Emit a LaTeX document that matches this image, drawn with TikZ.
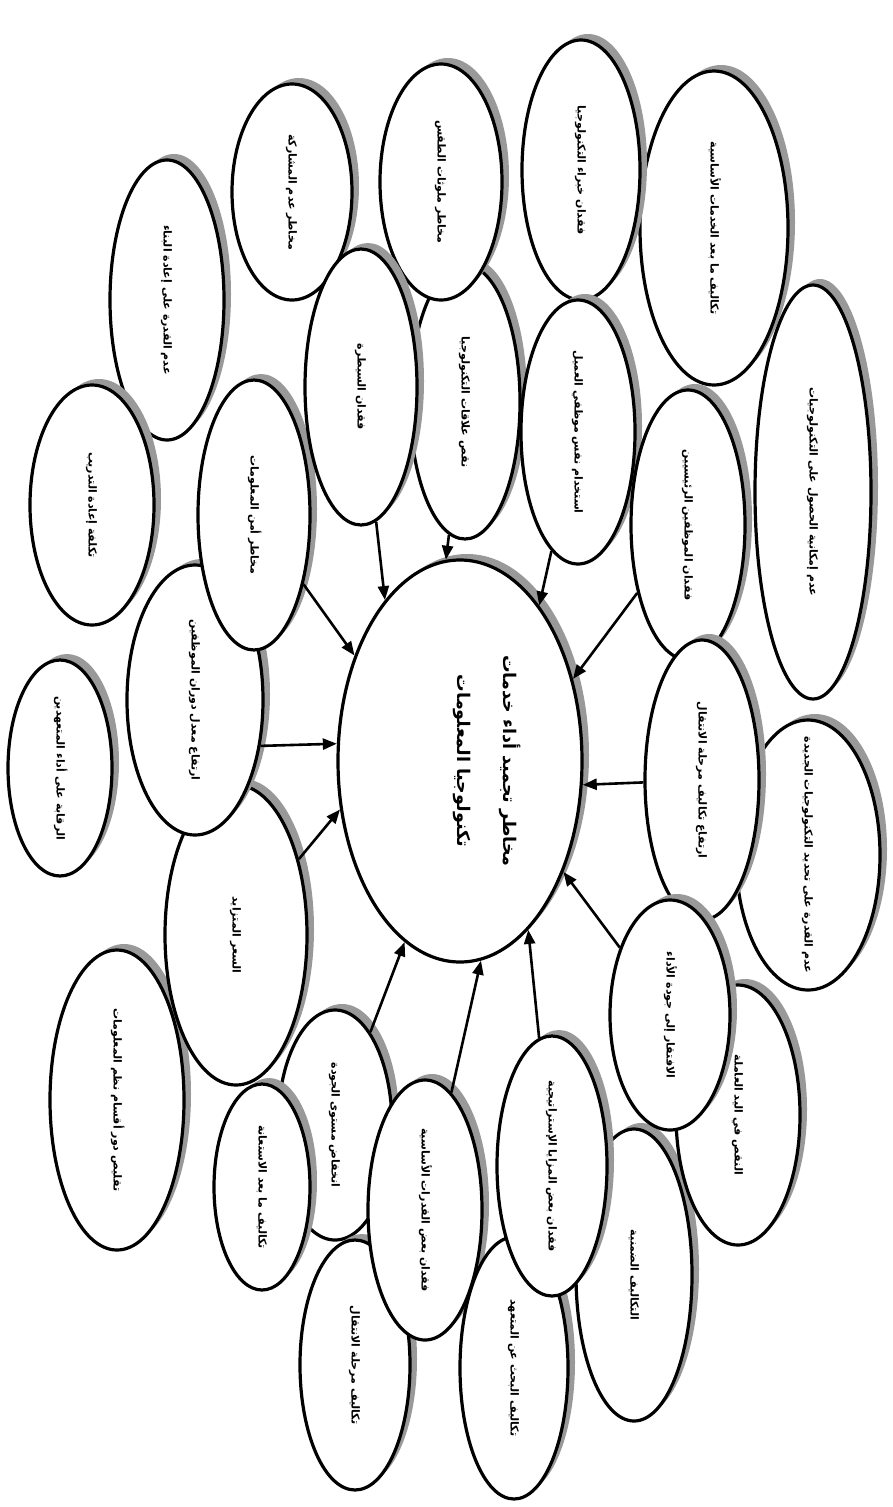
\documentclass[tikz,border=0pt]{standalone}
\usepackage{fontspec}
\usetikzlibrary{shapes.geometric,arrows.meta}
\TeXXeTstate=1
\newfontfamily\arfont[Script=Arabic]{DejaVu Sans}
\tikzset{
  bubstyle/.style={ellipse, draw=black, line width=3.2pt, fill=white, inner sep=0pt, rotate=-90,
    font=\arfont\bfseries\fontsize{11}{13}\selectfont},
  shad/.style={fill=black!40},
  arr/.style={line width=2.6pt, -{Triangle[length=14pt,width=11pt]}},
}
\newcommand\riskbub[6]{%
  \fill[shad] (#2+7,#3-6) ellipse [x radius=#4, y radius=#5];
  \node[bubstyle, minimum width=2*#5, minimum height=2*#4] (#1) at (#2,#3)
    {\raisebox{-0.3em}[0pt][0pt]{\makebox[0pt]{#6}}};
}
\begin{document}
\begin{tikzpicture}[x=1pt,y=-1pt]
\useasboundingbox (0,0) rectangle (892,1507);
\fill[white] (0,0) rectangle (892,1507);
\riskbub{n1}{714}{228}{74}{157}{\beginR تكاليف ما بعد الخدمات الأساسية\endR}
\riskbub{n2}{581}{170}{59}{130}{\beginR فقدان خبراء التكنولوجيا\endR}
\riskbub{n26}{465}{402}{55}{137}{\beginR نقص علاقات التكنولوجيا\endR}
\riskbub{n3}{441}{182}{61}{118}{\beginR مخاطر ملوثات الطقس\endR}
\riskbub{n4}{292}{192}{60}{108}{\beginR مخاطر عدم المشاركة\endR}
\riskbub{n5}{167}{300}{57}{140}{\beginR عدم القدرة على إعادة البناء\endR}
\riskbub{n6}{92}{505}{62}{120}{\beginR تكلفة إعادة التدريب\endR}
\riskbub{n7}{60}{768}{52}{108}{\beginR الرقابة على أداء المتعهدين\endR}
\riskbub{n8}{117}{1100}{67}{150}{\beginR تقليص دور أقسام نظم المعلومات\endR}
\riskbub{n21}{335}{1125}{57}{115}{\beginR انخفاض مستوى الجودة\endR}
\riskbub{n9}{262}{1187}{48}{103}{\beginR تكاليف ما بعد الاستعانة\endR}
\riskbub{n10}{355}{1365}{55}{125}{\beginR تكاليف مرحلة الانتقال\endR}
\riskbub{n20}{425}{1210}{57}{130}{\beginR فقدان بعض القدرات الأساسية\endR}
\riskbub{n11}{514}{1368}{54}{131}{\beginR تكاليف البحث عن المتعهد\endR}
\riskbub{n12}{634}{1275}{58}{146}{\beginR التكاليف الضمنية\endR}
\riskbub{n19}{552}{1166}{55}{130}{\beginR فقدان بعض المزايا الإستراتيجية\endR}
\riskbub{n13}{738}{1115}{62}{130}{\beginR النقص في اليد العاملة\endR}
\riskbub{n14}{808}{855}{72}{135}{\beginR عدم القدرة على تحديد التكنولوجيات الجديدة\endR}
\riskbub{n15}{813}{492}{58}{207}{\beginR عدم إمكانية الحصول على التكنولوجيات\endR}
\riskbub{n27}{578}{432}{57}{132}{\beginR استخدام نفس موظفي العميل\endR}
\riskbub{n16}{688}{525}{57}{135}{\beginR فقدان الموظفين الرئيسيين\endR}
\riskbub{n17}{702}{780}{57}{140}{\beginR ارتفاع تكاليف مرحلة الانتقال\endR}
\riskbub{n18}{670}{1015}{60}{115}{\beginR الافتقار إلى جودة الأداء\endR}
\riskbub{n22}{236}{935}{71}{150}{\beginR السعر المتزايد\endR}
\riskbub{n23}{195}{700}{68}{135}{\beginR ارتفاع معدل دوران الموظفين\endR}
\riskbub{n24}{254}{515}{56}{135}{\beginR مخاطر أمن المعلومات\endR}
\riskbub{n25}{361}{387}{56}{138}{\beginR فقدان السيطرة\endR}
% centre
\fill[shad] (460+7,761-6) ellipse [x radius=122, y radius=201];
\node[bubstyle, minimum width=402, minimum height=244,
  font=\arfont\bfseries\fontsize{17.5}{20}\selectfont] (C) at (460,761)
  {\raisebox{22pt}[0pt][0pt]{\begin{tabular}{@{}c@{}}\beginR مخاطر تجميد أداء خدمات\endR\\[26pt]\beginR تكنولوجيا المعلومات\endR\end{tabular}}};
% arrows
\draw[arr] (n25) -- (C.205);
\draw[arr] (n26) -- (C.184);
\draw[arr] (n27) -- (C.153);
\draw[arr] (n16) -- (C.126);
\draw[arr] (n17) -- (C.79);
\draw[arr] (n18) -- (C.43);
\draw[arr] (n19) -- (C.22);
\draw[arr] (n20) -- (C.6);
\draw[arr] (n21) -- (C.343);
\draw[arr] (n22) -- (C.292);
\draw[arr] (n23.55) -- (C.262);
\draw[arr] (n24) -- (C.225);
\end{tikzpicture}
\end{document}
